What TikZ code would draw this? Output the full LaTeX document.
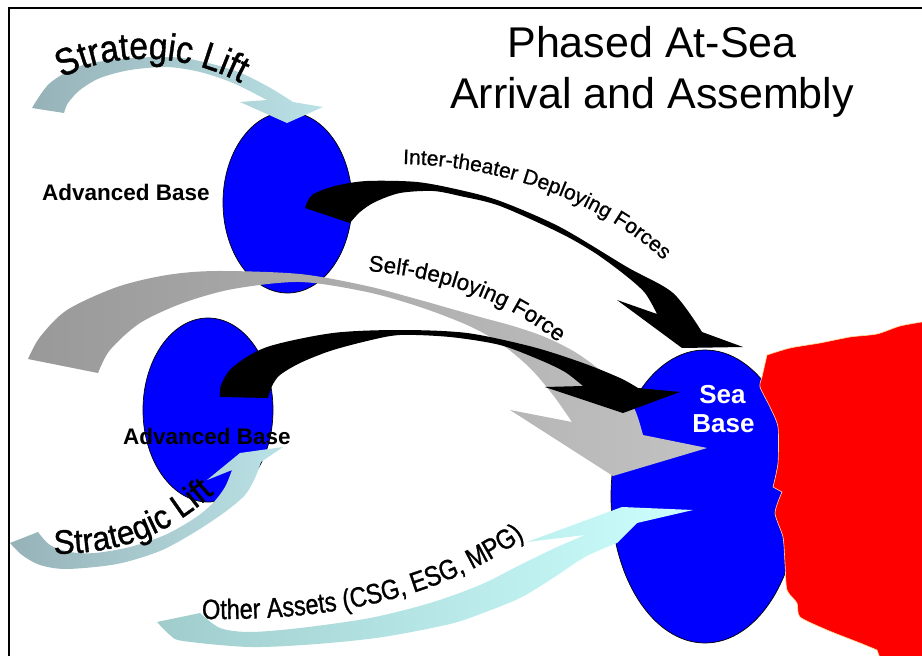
\documentclass[tikz,border=0pt]{standalone}
\usepackage{fontspec}
\setmainfont{Liberation Sans}
\newfontfamily\wafontA[FakeStretch=0.88, FakeBold=1.0]{Liberation Sans}
\newfontfamily\wafontL[FakeStretch=0.93, FakeBold=1.0]{Liberation Sans}
\newfontfamily\wafontB[FakeStretch=0.84, FakeBold=1.0]{Liberation Sans}
\newfontfamily\wafontC[FakeBold=0.7]{Liberation Sans}
\usetikzlibrary{shapes.geometric,decorations.text}
\definecolor{baseblue}{RGB}{0,0,255}
\definecolor{liftA}{RGB}{150,178,184}
\definecolor{liftB}{RGB}{186,226,230}
\definecolor{othA}{RGB}{160,204,204}
\definecolor{othB}{RGB}{204,255,255}
\definecolor{greyA}{RGB}{153,153,153}
\definecolor{greyB}{RGB}{194,194,194}
\definecolor{landred}{RGB}{255,0,0}
\definecolor{landedge}{RGB}{255,222,150}
\tikzset{
  basenode/.style={ellipse, fill=baseblue, draw=black, line width=0.7pt, inner sep=0pt},
  lbl/.style={font=\bfseries\fontsize{22.5}{24}\selectfont, anchor=base},
  curvetext/.style={decorate, decoration={text along path, text align=left, text={#1}}}
}
\begin{document}
\begin{tikzpicture}[x=1pt,y=-1pt]
\useasboundingbox (0,0) rectangle (922,656);
% frame
\draw[line width=2pt] (8.5,660) -- (8.5,7.5) -- (925,7.5);
% bases
\node[basenode, minimum width=129pt, minimum height=181pt] (ab1) at (287.5,202.5) {};
\node[basenode, minimum width=130pt, minimum height=184pt] (ab2) at (208,410) {};
\node[basenode, minimum width=188pt, minimum height=293pt] (sb) at (705,496.5) {};
% land
\fill[landred, draw=landedge, line width=0.6pt] plot[smooth, tension=0.4] coordinates {(767,355) (790,348) (820,343) (850,337) (877,334) (900,326) (922,322)} -- (924,322) -- (924,658) -- (880,658) -- plot[smooth, tension=0.4] coordinates {(877,650) (860,643) (827,630) (800,617) (797,603) (787,590) (785,563) (783,537) (775,513) (782,492)} -- plot[smooth, tension=0.4] coordinates {(773,487) (778,463) (778,427) (770,407) (760,387) (762,377) (767,355)} -- cycle;
% self-deploying grey arrow
\shade[left color=greyA, right color=greyB] plot[smooth] coordinates {(28,359) (40,337) (67,310) (117,287) (167,275) (217,271) (300,274) (367,286) (420,300) (480,317) (513,326) (545,337) (575,352) (600,370) (620,388) (635,410) (643,435)} -- (707,448) -- (613,476) -- (510,410) -- plot[smooth] coordinates {(572,422) (553,395) (530,368) (500,343) (467,325) (420,307) (367,292) (300,282) (233,289) (183,303) (140,323) (110,350) (98,373)} -- cycle;
% inter-theater black arrow
\fill[black] plot[smooth] coordinates {(305,208) (312,195) (335,186) (367,181) (417,182) (460,190) (500,201) (560,227) (627,267) (673,293) (702,332)} -- (743,347) -- (682,348) -- (617,300) -- plot[smooth] coordinates {(657,314) (645,293) (625,275) (595,253) (560,233) (500,206) (460,196) (433,191) (400,193) (375,202) (360,212) (350,223)} -- cycle;
% lower black arrow
\fill[black] plot[smooth] coordinates {(220,397) (221,385) (233,367) (267,347) (333,333) (400,330) (467,333) (533,347) (583,363) (620,378) (638,388)} -- (680,392) -- (623,413) -- (545,387) -- plot[smooth] coordinates {(583,386) (565,372) (540,360) (500,345) (450,337) (400,335) (367,341) (330,351) (300,363) (280,375) (272,386) (268,398)} -- cycle;
% upper strategic lift
\shade[left color=liftA, right color=liftB] plot[smooth] coordinates {(32,108) (50,83) (83,65) (133,58) (183,58) (233,70) (267,86) (293,102)} -- (323,107) -- (287,123) -- (240,102) -- plot[smooth] coordinates {(267,100) (233,83) (200,72) (167,67) (130,70) (100,78) (80,90) (68,103) (64,113)} -- cycle;
% lower strategic lift
\shade[left color=liftA, right color=liftB] plot[smooth] coordinates {(10,543) (22,555) (40,565) (67,569) (117,564) (160,551) (195,532) (225,512) (245,495) (255,478) (261,462)} -- (283,447) -- (240,453) -- (207,480) -- plot[smooth] coordinates {(232,470) (225,487) (213,503) (195,518) (165,535) (130,547) (95,553) (70,552) (50,545) (38,532)} -- cycle;
% other assets
\shade[left color=othA, right color=othB] plot[smooth] coordinates {(157,622) (170,635) (183,641) (250,647) (317,644) (383,637) (450,624) (483,613) (520,598) (550,580) (585,557) (617,543)} -- (637,523) -- (693,510) -- (622,507) -- (527,542) -- plot[smooth] coordinates {(585,535) (555,548) (520,565) (480,585) (430,603) (370,618) (300,628) (250,632) (220,628) (200,613)} -- cycle;
% title
\node[anchor=base, font=\fontsize{43}{51}\selectfont] (t1) at (652,57) {Phased At-Sea};
\node[anchor=base, font=\fontsize{43}{51}\selectfont] (t2) at (652,108) {Arrival and Assembly};
% labels
\node[lbl] (l1) at (126,200) {Advanced Base};
\node[lbl] (l2) at (207,444) {Advanced Base};
\node[anchor=base, text=white, font=\bfseries\fontsize{26}{28}\selectfont] (s1) at (722.5,403) {Sea};
\node[anchor=base, text=white, font=\bfseries\fontsize{26}{28}\selectfont] (s2) at (723.5,432) {Base};
% curved labels
\path[curvetext={|\wafontA\fontsize{38}{38}\selectfont|Strategic Lift}] (62,78) .. controls (115,50) and (195,50) .. (262,96);
\path[curvetext={|\wafontL\fontsize{34}{34}\selectfont|Strategic Lift}] (54,554) .. controls (110,553) and (172,545) .. (245,462);
\path[curvetext={|\wafontC\fontsize{21}{21}\selectfont|Inter-theater Deploying Forces}] (403,164) .. controls (500,166) and (612,200) .. (685,282);
\path[curvetext={|\wafontC\fontsize{22.5}{22.5}\selectfont|Self-deploying Force}] (368,271) .. controls (430,276) and (512,296) .. (578,360);
\path[curvetext={|\wafontB\fontsize{28}{28}\selectfont|Other Assets (CSG, ESG, MPG)}] (202,619) .. controls (300,620) and (440,612) .. (550,518);
\end{tikzpicture}
\end{document}
